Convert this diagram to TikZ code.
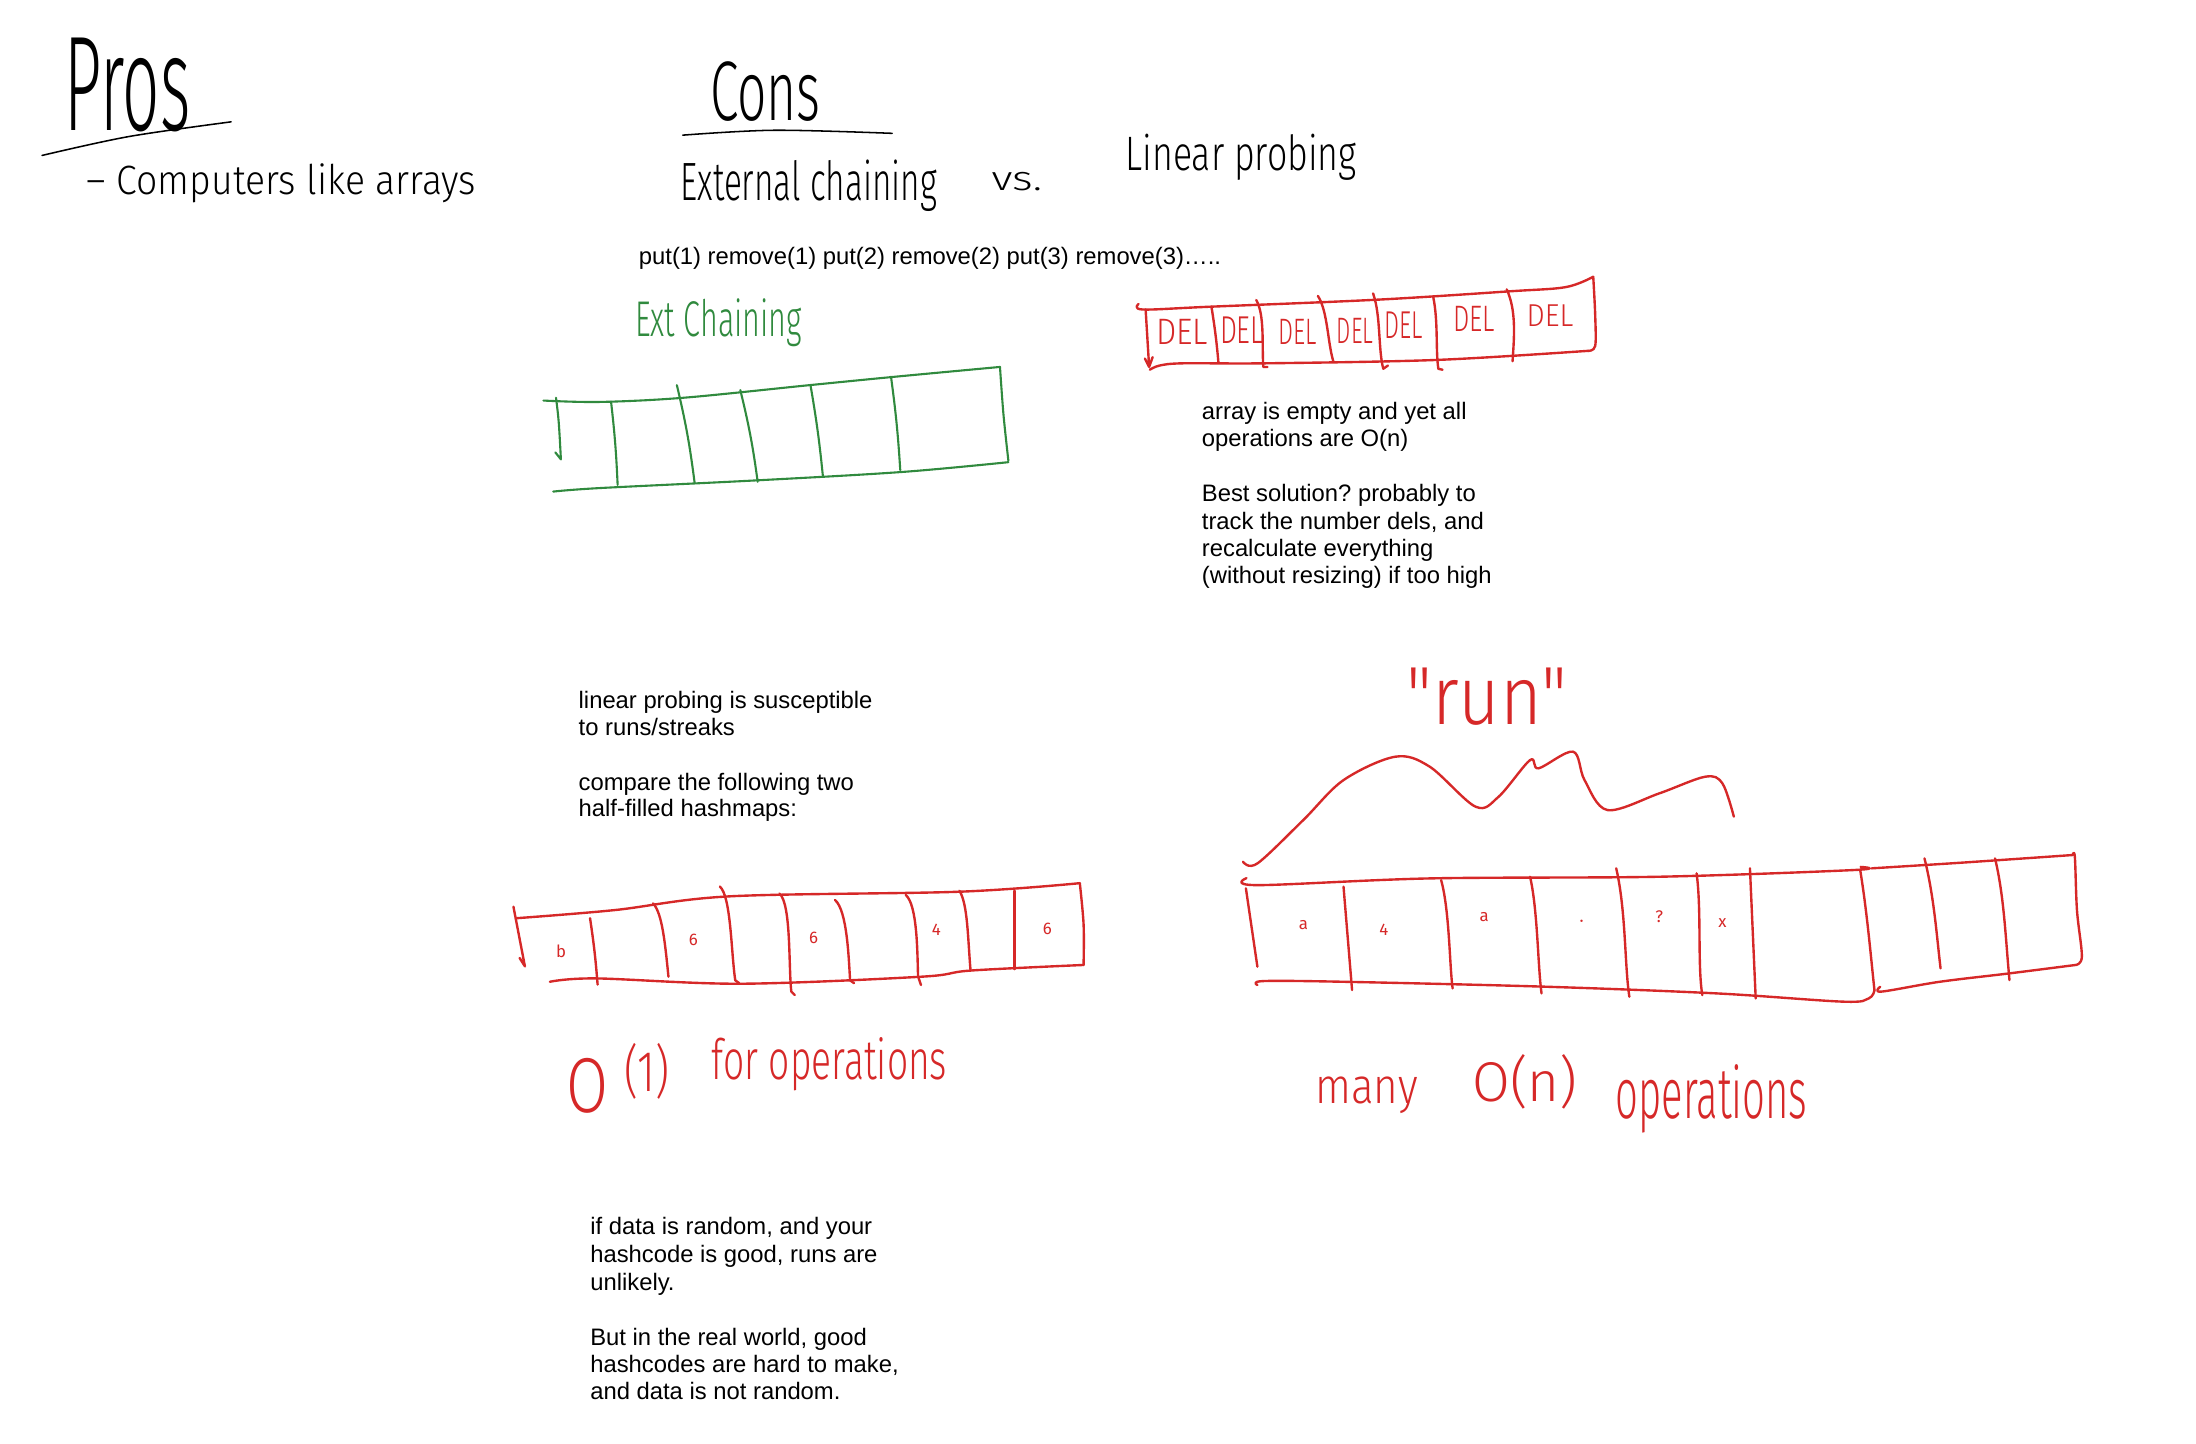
\documentclass[tikz,border=0pt]{standalone}
\usepackage{fontspec}
\usepackage{graphicx}
\setmainfont{Liberation Sans}
\frenchspacing
% pen-like faces for the handwritten notes, with fallbacks
\IfFontExistsTF{FiraSans-Thin.otf}
  {\newfontfamily\handfont{FiraSans-Thin.otf}}
  {\IfFontExistsTF{Fira Sans Light}{\newfontfamily\handfont{Fira Sans Light}}{\newfontfamily\handfont{Fira Sans}}}
\newfontfamily\markfont{Fira Sans}
\definecolor{inkred}{RGB}{214,40,40}
\definecolor{inkgreen}{RGB}{48,138,62}
% handwriting boxes: width, height above baseline / total height
\newcommand\handbox[3]{\resizebox{#1pt}{#2pt}{#3}}
\newcommand\handboxt[3]{\resizebox*{#1pt}{#2pt}{#3}}
\tikzset{
  pen/.style={line width=1.1pt, line cap=round, line join=round},
  redpen/.style={pen, draw=inkred, line width=1.7pt},
  greenpen/.style={pen, draw=inkgreen, line width=1.5pt},
  typed/.style={anchor=base west, inner sep=0pt, font=\fontsize{17}{19.5}\selectfont},
  hand/.style={inner sep=0pt, outer sep=0pt, font=\handfont},
  redhand/.style={inner sep=0pt, outer sep=0pt, text=inkred, font=\handfont},
  cellmark/.style={inner sep=0pt, text=inkred, font=\markfont\fontsize{12}{12}\selectfont},
  smoothline/.style={smooth, tension=0.55},
}
\begin{document}
\begin{tikzpicture}[x=1pt, y=-1pt]
\useasboundingbox[fill=white] (0,0) rectangle (1568,1031);

% ---------------- headings ----------------
\node[hand, anchor=base west] (pros) at (46,93) {\handbox{90}{66}{Pros}};
\draw[pen] plot[smoothline] coordinates {(30,111) (92,97.5) (165,87)};
\node[hand, anchor=base west] (computers) at (62,139) {\handbox{278}{22}{– Computers like arrays}};

\node[hand, anchor=base west] (cons) at (507,86) {\handbox{79}{42}{Cons}};
\draw[pen] plot[smoothline] coordinates {(487.5,96.5) (553,93) (637,95.2)};
\node[hand, anchor=base west] (extch) at (486,143) {\handbox{183}{29}{External chaining}};
\node[hand, anchor=base west] (vs) at (708,136) {\handbox{36}{13}{vs.}};
\node[hand, anchor=base west] (linprob) at (803.7,121.4) {\handbox{165}{26}{Linear probing}};

\node[typed] (ops) at (456,189.2) {put(1) remove(1) put(2) remove(2) put(3) remove(3)…..};

% ---------------- external chaining table ----------------
\node[inner sep=0pt, anchor=base west, text=inkgreen, font=\handfont] (extlabel) at (453.4,240.4) {\handbox{119}{27}{Ext Chaining}};
\draw[greenpen] plot[smoothline] coordinates {(388,286) (428,287) (488,284) (578,275) (639,269) (714,262)};
\draw[greenpen] plot[smoothline] coordinates {(714,262) (716.5,296) (720,329)};
\draw[greenpen] plot[smoothline] coordinates {(720,330) (644,337) (540,343) (428,348.5) (395,351)};
\draw[greenpen] (397,284) .. controls (399,300) .. (400.5,328) -- (396.5,323);
\draw[greenpen] (436.3,286.8) to[bend left=2] (441,346.3);
\draw[greenpen] (483.3,275) to[bend left=3] (496,345);
\draw[greenpen] (528.6,278.5) to[bend left=3] (541,344);
\draw[greenpen] (578.7,275) to[bend left=2] (587.6,340.4);
\draw[greenpen] (636.2,269) to[bend left=2] (642.8,335.6);

% ---------------- table full of deleted markers ----------------
\draw[redpen] plot[smoothline] coordinates {(813,217) (816,221) (864,219) (983,214) (1078,208) (1118,205) (1137.6,197.6)};
\draw[redpen] plot[smoothline] coordinates {(1137.6,197.6) (1139,225) (1139,247) (1134,250.5)};
\draw[redpen] plot[smoothline] coordinates {(1134,250.5) (1025.8,257) (904.4,259.4) (845,259.4) (828,261) (821,264)};
\draw[redpen] (818,221) -- (820.5,262) (817.5,256) -- (820.5,262) -- (823,255);
\draw[redpen] (865,219) to[bend left=2] (870,259);
\draw[redpen] (897,214.2) .. controls (903,225) and (901,245) .. (902,262) -- (905,262);
\draw[redpen] (941,211.3) .. controls (948,222) and (948,245) .. (952,257.9);
\draw[redpen] (980.4,209.5) .. controls (986,225) and (984,250) .. (987.7,263.3) -- (991,261);
\draw[redpen] (1023.4,212.3) .. controls (1027,230) and (1025,250) .. (1027,263.3) -- (1030,264);
\draw[redpen] (1075.8,206.6) .. controls (1083,222) and (1081,242) .. (1080,257.9);
\foreach \i/\cx/\cy/\w/\h in {1/844.2/237.3/37/18, 2/886.6/235.6/31/19, 3/926.3/237.3/27.4/18,
    4/967.5/236/26/18, 5/1002.5/232/27.4/19, 6/1052.5/227.8/29.8/18, 7/1106.7/225.4/33.3/15.5}
  \node[redhand] (del\i) at (\cx,\cy) {\handboxt{\w}{\h}{DEL}};

\node[typed] (empty1) at (858,299.4) {array is empty and yet all};
\node[typed] (empty2) at (858,318.9) {operations are O(n)};
\node[typed] (best1) at (858,358.2) {Best solution? probably to};
\node[typed] (best2) at (858,377.9) {track the number dels, and};
\node[typed] (best3) at (858,397) {recalculate everything};
\node[typed] (best4) at (858,416.5) {(without resizing) if too high};

% ---------------- runs ----------------
\node[typed] (lin1) at (413,505.8) {linear probing is susceptible};
\node[typed] (lin2) at (413,524.8) {to runs/streaks};
\node[typed] (cmp1) at (413,564.1) {compare the following two};
\node[typed] (cmp2) at (413,583.1) {half-filled hashmaps:};

% spread-out table
\draw[redpen] plot[smoothline] coordinates {(369,655.6) (439,649.8) (521,640) (685,636.7) (771,630.6)};
\draw[redpen] plot[smoothline] coordinates {(771,630.6) (773.7,660) (773.7,689)};
\draw[redpen] plot[smoothline] coordinates {(773.7,689) (693,693) (657.6,697.4) (529,702.4) (425.4,698.6) (392.6,701)};
\draw[redpen] (366.6,647.4) -- (374.8,690) (371,684) -- (374.8,690);
\draw[redpen] (421.3,655.6) to[bend left=2] (426.7,703);
\draw[redpen] (466.3,645) .. controls (473,652) and (475,675) .. (477.3,697.4);
\draw[redpen] (514,633) .. controls (522,640) and (522,680) .. (525,700) -- (527.8,702);
\draw[redpen] (556.5,638) .. controls (565,645) and (563,690) .. (565,708) -- (567.5,710.5);
\draw[redpen] (596.2,642.6) .. controls (605,650) and (606,685) .. (607,700) -- (609.8,702);
\draw[redpen] (646.7,639) .. controls (655,646) and (655,680) .. (655.5,697) -- (657.6,703.3);
\draw[redpen] (685,636) .. controls (691,645) and (691,670) .. (693,693);
\draw[redpen] (724.5,636) -- (724.5,692);
\node[cellmark] (m1) at (400.7,679.5) {b};
\node[cellmark] (m2) at (495,671.2) {6};
\node[cellmark] (m3) at (581,670) {6};
\node[cellmark] (m4) at (668.5,664) {4};
\node[cellmark] (m5) at (747.8,663) {6};

\node[redhand, anchor=north west] (o1a) at (404.6,755.7) {\handboxt{30}{39.3}{O}};
\node[redhand, anchor=north west] (o1b) at (446,745) {\handboxt{32}{40}{(1)}};
\node[redhand, anchor=base west] (o1c) at (508.3,771) {\handbox{168}{30}{for operations}};

% clustered table with a run
\node[redhand, anchor=north west] (run) at (1004,477) {\handboxt{115}{41}{"run"}};
\draw[redpen] plot[smoothline] coordinates {(887.5,615.3) (897.8,616.5) (930.6,585.5) (959.3,557) (996.2,540.3)
  (1020.8,547.4) (1053.6,576) (1070,568.9) (1092.5,542.7) (1098.6,548.6) (1123.2,536.7) (1131.4,557)
  (1147.8,578.4) (1184.7,566.5) (1217.5,554.6) (1229.8,559.3) (1238,583.1)};
\draw[redpen] plot[smoothline] coordinates {(890,627) (897.8,632) (1020.8,627.2) (1184.7,626) (1324,621.2) (1328.5,619)};
\draw[redpen] (889.6,634.3) -- (897.8,690.2);
\draw[redpen] plot[smoothline] coordinates {(897.8,703.3) (902,700.5) (959.3,701) (1102.7,704.5) (1225.7,709.3) (1316,715.2) (1334.3,712.9) (1338.4,707)};
\draw[redpen] (1328.2,621.2) .. controls (1333,650) and (1336,685) .. (1338.4,707);
\draw[redpen] (959.3,633.1) -- (965.4,706.9);
\draw[redpen] (1029,628.4) .. controls (1035,650) and (1035,690) .. (1037.2,705.7);
\draw[redpen] (1092.5,626) .. controls (1098,650) and (1098,690) .. (1100.7,709.3);
\draw[redpen] (1154,620) .. controls (1161,650) and (1160,690) .. (1163.4,711.7);
\draw[redpen] (1211.4,623.6) .. controls (1215,650) and (1212,690) .. (1215.5,710.5);
\draw[redpen] (1249.5,620) -- (1253.6,712.9);
\draw[redpen] plot[smoothline] coordinates {(1336.4,620) (1400,616) (1479.9,610.5)};
\draw[redpen] plot[smoothline] coordinates {(1479.9,610.5) (1481.5,612) (1483,650) (1486.5,683) (1482,689)};
\draw[redpen] plot[smoothline] coordinates {(1482,689) (1434.8,695) (1385,701) (1343.5,708) (1342.5,704.6)};
\draw[redpen] (1374.1,612.9) .. controls (1381,640) and (1383,670) .. (1385.6,691.4);
\draw[redpen] (1424.5,612.9) .. controls (1431,640) and (1432,670) .. (1434.8,699.8);
\node[cellmark] (n1) at (930.6,660.5) {a};
\node[cellmark] (n2) at (988,664) {4};
\node[cellmark] (n3) at (1059.7,654.5) {a};
\node[cellmark] (n4) at (1129.4,659.3) {·};
\node[cellmark] (n5) at (1184.7,654.5) {?};
\node[cellmark] (n6) at (1229.8,659.3) {x};

\node[redhand, anchor=base west] (many) at (939.3,787.8) {\handbox{73}{19}{many}};
\node[redhand, anchor=north west] (on) at (1051.3,753.3) {\handboxt{75}{39}{O(n)}};
\node[redhand, anchor=north west] (onops) at (1153.5,760.4) {\handboxt{137}{49}{operations}};

% ---------------- closing remarks ----------------
\node[typed] (rand1) at (421.3,881.8) {if data is random, and your};
\node[typed] (rand2) at (421.3,901.6) {hashcode is good, runs are};
\node[typed] (rand3) at (421.3,921.1) {unlikely.};
\node[typed] (real1) at (421.3,960.4) {But in the real world, good};
\node[typed] (real2) at (421.3,980.1) {hashcodes are hard to make,};
\node[typed] (real3) at (421.3,999.6) {and data is not random.};
\end{tikzpicture}
\end{document}
